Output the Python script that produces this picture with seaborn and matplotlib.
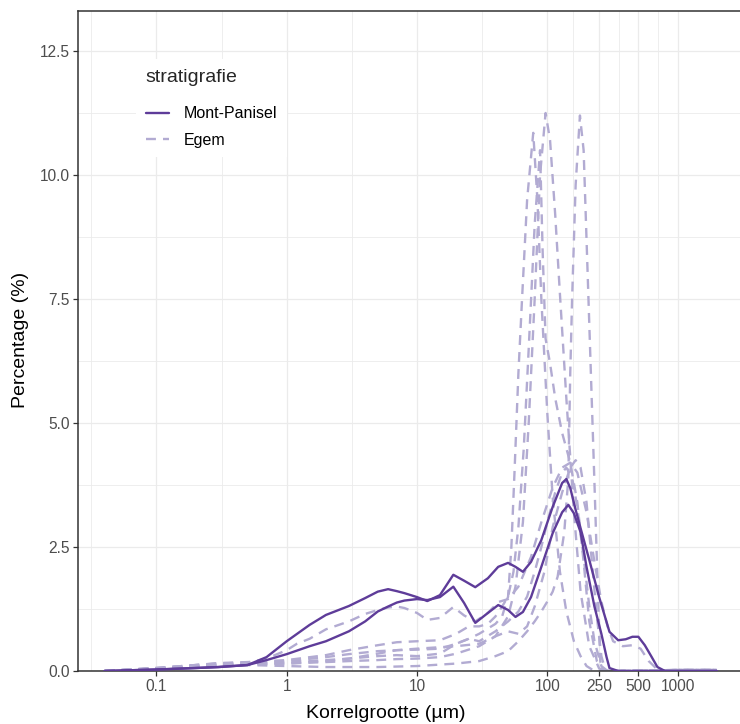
import matplotlib
matplotlib.use("Agg")
import matplotlib.pyplot as plt
import numpy as np
import pandas as pd
import seaborn as sns
from matplotlib.ticker import FixedLocator, NullFormatter

# ---------------- data (grain size in µm, percentage) ----------------
mp1_x = [0.04, 0.1, 0.2, 0.3, 0.5, 0.7, 1, 1.5, 2, 3, 4, 5, 6, 7, 8, 10, 12, 15, 19, 23, 28, 35, 42, 50, 57, 65, 75,
         90, 110, 130, 140, 150, 165, 180, 210, 250, 300, 350, 400, 450, 500, 560, 630, 700, 800, 1000, 2000]
mp1_y = [0, 0.03, 0.06, 0.08, 0.12, 0.28, 0.6, 0.93, 1.13, 1.31, 1.47, 1.6, 1.65, 1.61, 1.57, 1.49, 1.41, 1.53, 1.94,
         1.82, 1.69, 1.87, 2.1, 2.18, 2.1, 2.0, 2.2, 2.64, 3.31, 3.79, 3.87, 3.69, 3.25, 2.88, 2.24, 1.49, 0.79, 0.62,
         0.64, 0.69, 0.69, 0.52, 0.29, 0.08, 0, 0, 0]

mp2_x = [0.04, 0.1, 0.2, 0.3, 0.5, 0.7, 1, 1.5, 2, 3, 4, 5, 6, 7, 8, 10, 12, 15, 19, 23, 28, 35, 42, 50, 57, 65, 75,
         90, 110, 130, 145, 160, 180, 200, 230, 260, 285, 300, 350, 2000]
mp2_y = [0, 0.03, 0.06, 0.08, 0.12, 0.22, 0.34, 0.5, 0.6, 0.8, 1.0, 1.2, 1.3, 1.38, 1.42, 1.45, 1.43, 1.49, 1.70, 1.37,
         0.97, 1.17, 1.33, 1.23, 1.09, 1.19, 1.49, 2.1, 2.78, 3.2, 3.35, 3.18, 2.8, 2.1, 1.3, 0.75, 0.28, 0.06, 0, 0]

ega_x = [0.04, 0.1, 0.2, 0.3, 0.5, 1, 2, 3, 5, 7, 10, 15, 20, 30, 40, 50, 57, 65, 72, 80, 88, 97, 105, 115, 125, 140,
         160, 180, 210, 250, 300, 500, 1000, 2000]
ega_y = [0, 0.05, 0.1, 0.13, 0.15, 0.15, 0.18, 0.2, 0.22, 0.24, 0.25, 0.28, 0.35, 0.5, 0.7, 1.1, 1.7, 3.0, 5.0, 7.5,
         10.0, 11.25, 10.7, 9.2, 7.6, 5.5, 3.2, 1.6, 0.5, 0.05, 0, 0, 0.02, 0.02]

egb_x = [0.04, 0.1, 0.3, 0.5, 1, 2, 5, 10, 20, 30, 40, 50, 60, 70, 80, 90, 100, 110, 120, 135, 145, 150, 155, 165,
         178, 190, 207, 230, 245, 255, 270, 500, 1000, 2000]
egb_y = [0, 0.05, 0.1, 0.12, 0.1, 0.08, 0.08, 0.1, 0.15, 0.2, 0.3, 0.4, 0.6, 0.8, 1.0, 1.2, 1.4, 1.6, 1.9, 2.8, 3.9,
         6.0, 7.5, 9.8, 11.2, 10.5, 7.5, 3.8, 1.5, 0.2, 0, 0, 0.02, 0.02]

egc_x = [0.04, 0.1, 0.2, 0.3, 0.5, 1, 2, 3, 5, 7, 10, 15, 20, 25, 30, 40, 45, 50, 53, 56, 60, 64, 70, 78, 84, 90, 100,
         110, 125, 140, 160, 180, 200, 230, 300, 1000, 2000]
egc_y = [0, 0.06, 0.12, 0.15, 0.17, 0.2, 0.28, 0.34, 0.4, 0.42, 0.43, 0.45, 0.55, 0.65, 0.75, 0.95, 1.1, 1.5, 2.5, 4.0,
         6.0, 7.5, 9.5, 10.85, 9.5, 7.5, 5.2, 3.5, 2.0, 1.2, 0.6, 0.3, 0.1, 0, 0, 0.02, 0.02]

egd_x = [0.04, 0.1, 0.2, 0.3, 0.5, 1, 2, 3, 5, 7, 10, 15, 20, 25, 30, 35, 40, 45, 50, 55, 60, 66, 72, 80, 88, 92, 97,
         105, 115, 130, 150, 170, 190, 210, 240, 270, 300, 1000, 2000]
egd_y = [0, 0.06, 0.12, 0.16, 0.18, 0.22, 0.32, 0.42, 0.52, 0.58, 0.6, 0.62, 0.75, 0.9, 0.9, 0.95, 1.1, 1.3, 1.5, 2.0,
         2.9, 4.5, 6.5, 9.0, 10.5, 8.5, 6.7, 6.2, 5.5, 4.8, 4.2, 3.4, 2.2, 1.0, 0.2, 0, 0, 0.02, 0.02]

ege_x = [0.04, 0.1, 0.2, 0.3, 0.5, 0.7, 1, 1.2, 1.5, 2, 3, 4, 5, 6, 7, 8, 10, 12, 15, 19, 23, 28, 35, 42, 50, 60, 75,
         90, 110, 130, 150, 170, 200, 230, 260, 290, 320, 380, 450, 520, 600, 700, 800, 1000, 2000]
ege_y = [0, 0.06, 0.12, 0.15, 0.17, 0.25, 0.42, 0.55, 0.65, 0.84, 1.0, 1.15, 1.23, 1.28, 1.3, 1.27, 1.17, 1.03, 1.07,
         1.29, 1.12, 1.0, 1.17, 1.39, 1.45, 1.7, 2.3, 3.0, 3.7, 4.1, 4.2, 4.0, 3.2, 2.2, 1.4, 0.9, 0.6, 0.5, 0.52,
         0.45, 0.2, 0.03, 0, 0.02, 0.02]

egf_x = [0.04, 0.1, 0.3, 0.5, 1, 2, 3, 5, 7, 10, 15, 20, 25, 30, 40, 50, 60, 70, 80, 90, 100, 115, 130, 140, 155, 170,
         190, 210, 230, 260, 290, 1000, 2000]
egf_y = [0, 0.05, 0.12, 0.14, 0.18, 0.22, 0.25, 0.3, 0.32, 0.3, 0.35, 0.55, 0.65, 0.6, 0.8, 1.0, 1.2, 1.5, 2.0, 2.5,
         3.0, 3.6, 4.0, 4.1, 3.9, 3.3, 2.3, 1.3, 0.6, 0.1, 0, 0.02, 0.02]

egg_x = [0.04, 0.1, 0.3, 0.5, 1, 2, 3, 5, 7, 10, 15, 20, 30, 40, 50, 60, 70, 80, 95, 110, 130, 150, 165, 180, 200, 220,
         240, 260, 280, 1000, 2000]
egg_y = [0, 0.05, 0.1, 0.13, 0.15, 0.2, 0.25, 0.35, 0.42, 0.45, 0.48, 0.5, 0.55, 0.7, 0.8, 0.75, 0.9, 1.3, 2.0, 2.9,
         3.6, 4.1, 4.25, 4.1, 3.4, 2.2, 1.1, 0.3, 0, 0.02, 0.02]

samples = [
    ("MP1", "Mont-Panisel", mp1_x, mp1_y),
    ("MP2", "Mont-Panisel", mp2_x, mp2_y),
    ("EGA", "Egem", ega_x, ega_y),
    ("EGB", "Egem", egb_x, egb_y),
    ("EGC", "Egem", egc_x, egc_y),
    ("EGD", "Egem", egd_x, egd_y),
    ("EGE", "Egem", ege_x, ege_y),
    ("EGF", "Egem", egf_x, egf_y),
    ("EGG", "Egem", egg_x, egg_y),
]

x_ticks = [0.1, 1, 10, 100, 250, 500, 1000]
x_tick_labels = ["0.1", "1", "10", "100", "250", "500", "1000"]
y_ticks = [0, 2.5, 5, 7.5, 10, 12.5]
y_tick_labels = ["0.0", "2.5", "5.0", "7.5", "10.0", "12.5"]

rows = []
for name, strat, xs, ys in samples:
    for xv, yv in zip(xs, ys):
        rows.append({"sample": name, "stratigrafie": strat, "x": xv, "y": yv})
df = pd.DataFrame(rows)

# ---------------- styling ----------------
sns.set_theme(style="white")
plt.rcParams["font.family"] = ["Liberation Sans", "DejaVu Sans"]

MP_COL = "#5e3c99"
EG_COL = "#b2abd2"
W, H = 740, 724
fig = plt.figure(figsize=(W / 100, H / 100), dpi=100)
left_px, right_px, top_px, bottom_px = 78, 748, 10.5, 671
ax = fig.add_axes([left_px / W, (H - bottom_px) / H, (right_px - left_px) / W, (bottom_px - top_px) / H])

sns.lineplot(data=df, x="x", y="y", hue="stratigrafie", style="stratigrafie", units="sample", estimator=None,
             hue_order=["Mont-Panisel", "Egem"], style_order=["Mont-Panisel", "Egem"],
             palette={"Mont-Panisel": MP_COL, "Egem": EG_COL},
             dashes={"Mont-Panisel": "", "Egem": (4.2, 3.0)},
             sort=False, linewidth=1.7, ax=ax)

for ln in ax.lines:
    if matplotlib.colors.to_hex(ln.get_color()) == MP_COL:
        ln.set_zorder(3)
    else:
        ln.set_zorder(2)

ax.set_xscale("log")
ax.set_xlim(10 ** ((left_px - 286.7) / 130.3), 10 ** ((right_px - 286.7) / 130.3))
ax.set_ylim(0, (bottom_px - top_px) / 49.6)

ax.xaxis.set_major_locator(FixedLocator(x_ticks))
ax.set_xticklabels(x_tick_labels)
minor_x = [10 ** -1.5, 10 ** -0.5, 10 ** 0.5, 10 ** 1.5, 10 ** ((2 + np.log10(250)) / 2),
           10 ** ((np.log10(250) + np.log10(500)) / 2), 10 ** ((np.log10(500) + 3) / 2)]
ax.xaxis.set_minor_locator(FixedLocator(minor_x))
ax.xaxis.set_minor_formatter(NullFormatter())
ax.yaxis.set_major_locator(FixedLocator(y_ticks))
ax.set_yticklabels(y_tick_labels)
ax.yaxis.set_minor_locator(FixedLocator([1.25, 3.75, 6.25, 8.75, 11.25]))

ax.grid(which="major", color="#ebebeb", linewidth=0.9, zorder=0)
ax.grid(which="minor", color="#ebebeb", linewidth=0.6, zorder=0)
ax.set_axisbelow(True)

for s in ax.spines.values():
    s.set_color("#333333")
    s.set_linewidth(1.1)

ax.tick_params(which="major", direction="out", length=3.6, width=0.9, color="#333333",
               labelsize=11.2, labelcolor="#4d4d4d", pad=2.2, bottom=True, left=True)
ax.tick_params(which="minor", length=0)

ax.set_xlabel("Korrelgrootte (µm)", fontsize=14, color="black")
ax.set_ylabel("Percentage (%)", fontsize=14, color="black")
ax.xaxis.set_label_coords((385.5 - left_px) / (right_px - left_px), (bottom_px - 713) / (bottom_px - top_px))
ax.xaxis.label.set_va("center")
ax.yaxis.set_label_coords((20 - left_px) / (right_px - left_px), (bottom_px - 340) / (bottom_px - top_px))
ax.yaxis.label.set_va("center")

handles, labels = ax.get_legend_handles_labels()
keep = [(h, l) for h, l in zip(handles, labels) if l in ("Mont-Panisel", "Egem")]
old = ax.get_legend()
if old is not None:
    old.remove()
leg = ax.legend([k[0] for k in keep], [k[1] for k in keep], title="stratigrafie",
                loc="upper left", bbox_to_anchor=(128 / W, 1 - 51 / H), bbox_transform=fig.transFigure,
                frameon=True, facecolor="white", edgecolor="none", fancybox=False, framealpha=1,
                fontsize=11.5, title_fontsize=14, handlelength=1.45, handletextpad=0.95,
                labelspacing=0.72, borderpad=0.6, alignment="left")
leg._legend_box.sep = 15
for t in leg.get_texts():
    t.set_color("black")

fig.savefig("out.png", dpi=100)
